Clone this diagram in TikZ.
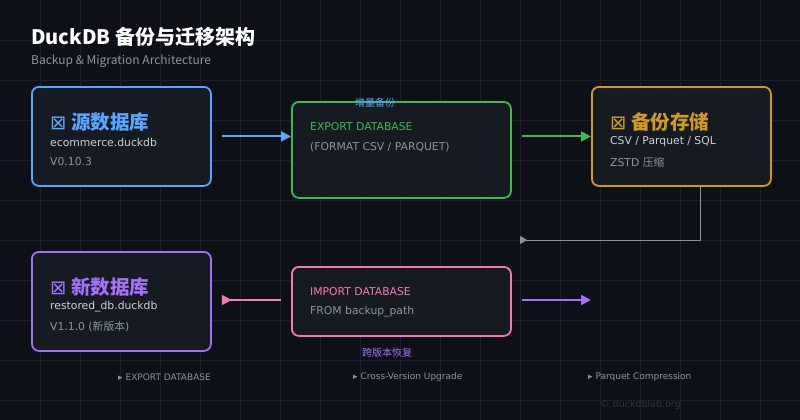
\documentclass[tikz,border=0pt]{standalone}
\usepackage{fontspec}
\setmainfont{Noto Sans CJK SC}
\newfontfamily\symfont{DejaVu Sans}
\usetikzlibrary{arrows.meta, calc}

\definecolor{bgcol}{HTML}{0D1117}
\definecolor{gridcol}{HTML}{1B2028}
\definecolor{boxcol}{HTML}{161B22}
\definecolor{srccol}{HTML}{58A6FF}
\definecolor{expcol}{HTML}{3FB950}
\definecolor{stocol}{HTML}{D29922}
\definecolor{newcol}{HTML}{A371F7}
\definecolor{impcol}{HTML}{F778BA}
\definecolor{txtcol}{HTML}{C9D1D9}
\definecolor{dimcol}{HTML}{8B949E}
\definecolor{faintcol}{HTML}{30363D}

\tikzset{
  box/.style = {draw, line width=1.8pt, rounded corners=7pt, fill=boxcol,
    anchor=north west, inner sep=0pt},
  head/.style = {anchor=west, font=\fontsize{19.5}{22}\selectfont\bfseries, inner sep=0pt},
  line1/.style = {anchor=west, text=txtcol, font=\symfont\fontsize{10.8}{12}\selectfont, inner sep=0pt},
  line2/.style = {anchor=west, text=dimcol, font=\symfont\fontsize{10.8}{12}\selectfont, inner sep=0pt},
  tag/.style = {text=#1, font=\fontsize{10}{12}\selectfont, inner sep=0pt},
  foot/.style = {anchor=west, text=dimcol, font=\symfont\fontsize{9}{10}\selectfont, inner sep=0pt},
  flow/.style = {line width=2pt, draw=#1, -{Triangle[length=10pt, width=10pt]}},
  back/.style = {line width=2pt, draw=#1, -{Triangle[length=10pt, width=10pt, reversed]}}
}

\begin{document}
\begin{tikzpicture}[x=1pt, y=-1pt]
  \fill[bgcol] (0,0) rectangle (800,420);
  \useasboundingbox (0,0) rectangle (800,420);
  \foreach \gx in {40,80,...,760} \draw[gridcol, line width=0.8pt] (\gx,0) -- (\gx,420);
  \foreach \gy in {40,80,...,400} \draw[gridcol, line width=0.8pt] (0,\gy) -- (800,\gy);

  % title
  \node[anchor=west, inner sep=0pt, text=white, font=\fontsize{20}{22}\selectfont\bfseries] (title) at (31,37) {DuckDB 备份与迁移架构};
  \node[anchor=west, inner sep=0pt, text=dimcol, font=\fontsize{12}{14}\selectfont] (subtitle) at (31,61) {Backup \& Migration Architecture};

  % boxes
  \node[box, draw=srccol, minimum width=179pt, minimum height=99pt] (src) at (31,86) {};
  \node[box, draw=expcol, minimum width=219pt, minimum height=96pt] (exp) at (291,101) {};
  \node[box, draw=stocol, minimum width=179pt, minimum height=99pt] (sto) at (591,86) {};
  \node[box, draw=newcol, minimum width=179pt, minimum height=99pt] (new) at (31,251) {};
  \node[box, draw=impcol, minimum width=219pt, minimum height=69pt] (imp) at (291,266) {};

  % box texts
  \node[head, text=srccol] (srchead) at (50,122) {{\symfont\mdseries ⊠} 源数据库};
  \node[line1] (srcfile) at (50,142) {ecommerce.duckdb};
  \node[line2] (srcver) at (50,162) {V0.10.3};

  \node[tag=srccol] (exptag) at (375,103) {增量备份};
  \node[line1, text=expcol] (expcmd) at (310,127) {EXPORT DATABASE};
  \node[line2] (expopt) at (310,147) {(FORMAT CSV / PARQUET)};

  \node[head, text=stocol] (stohead) at (610,122) {{\symfont\mdseries ⊠} 备份存储};
  \node[line1] (stofmt) at (610,142) {CSV / Parquet / SQL};
  \node[line2] (stozip) at (610,162) {ZSTD {\rmfamily 压缩}};

  \node[head, text=newcol] (newhead) at (50,287) {{\symfont\mdseries ⊠} 新数据库};
  \node[line1] (newfile) at (50,307) {restored\_db.duckdb};
  \node[line2] (newver) at (50,327) {V1.1.0 ({\rmfamily 新版本})};

  \node[line1, text=impcol] (impcmd) at (310,292) {IMPORT DATABASE};
  \node[line2] (imppath) at (310,312) {FROM backup\_path};
  \node[tag=newcol] (imptag) at (387,353) {跨版本恢复};

  % connectors
  \draw[flow=srccol] ([xshift=10pt]src.east) -- (exp.west |- src.east);
  \draw[flow=expcol] ([xshift=10pt]exp.east |- sto.west) -- (sto.west);
  \coordinate (turn) at (520,240);
  \draw[dimcol, line width=1pt, -{Triangle[length=7pt, width=8pt, reversed]}] ([xshift=109pt]sto.south west) |- (turn);
  \draw[back=impcol] ([xshift=-10pt]imp.west |- 0,300) -- ([xshift=10pt]new.east |- 0,300);
  \coordinate (outend) at (591,300);
  \draw[flow=newcol] ([xshift=10pt]imp.east |- 0,300) -- (outend);

  % footer
  \node[foot] (f1) at (118,377) {▸ EXPORT DATABASE};
  \node[foot] (f2) at (353,377) {▸ Cross-Version Upgrade};
  \node[foot] (f3) at (588,377) {▸ Parquet Compression};
  \node[foot, text=faintcol, font=\symfont\fontsize{9.5}{11}\selectfont] (copy) at (600,405) {© duckdblab.org};
\end{tikzpicture}
\end{document}
